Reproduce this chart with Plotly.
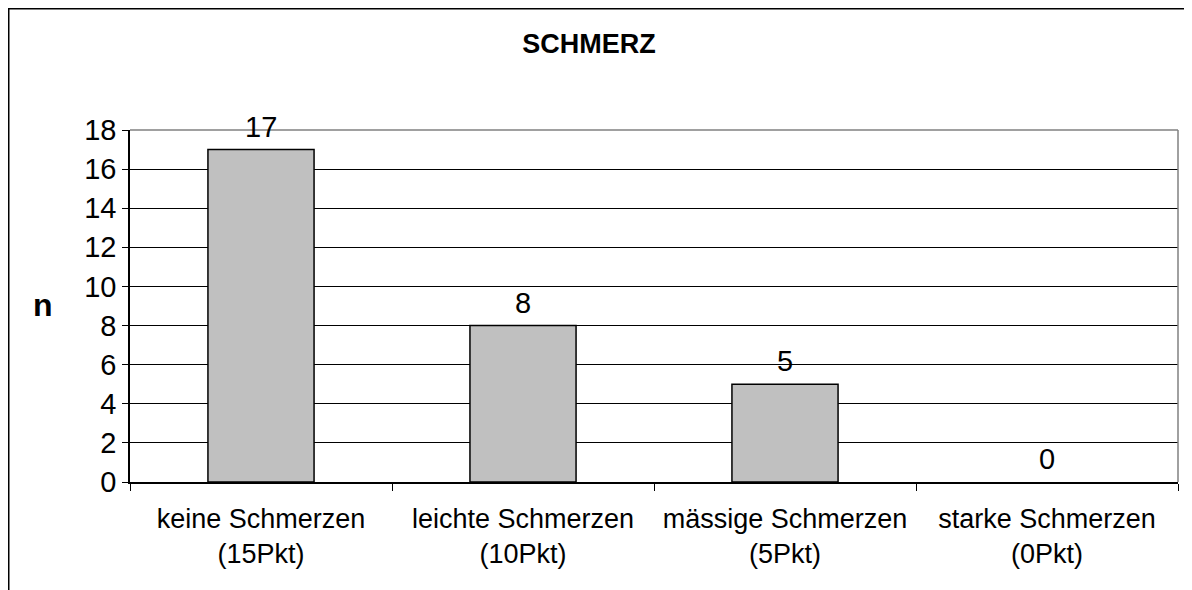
import plotly.graph_objects as go

categories = ["keine Schmerzen<br>(15Pkt)", "leichte Schmerzen<br>(10Pkt)",
              "mässige Schmerzen<br>(5Pkt)", "starke Schmerzen<br>(0Pkt)"]
values = [17, 8, 5, 0]
y_ticks = [0, 2, 4, 6, 8, 10, 12, 14, 16, 18]
title_text = "SCHMERZ"
y_title = "n"

FONT = "Liberation Sans, Arial, sans-serif"
W, H = 1192, 590
OFF = 8  # page offset of the figure in the browser window
L, T = 130 - OFF, 130 - OFF
R = W - (1178 - OFF)
B = H - (482 - OFF)
pw, ph = W - L - R, H - T - B

def px_x(p):
    return (p - OFF - L) / pw

def px_y(p):
    return (H - B - (p - OFF)) / ph

fig = go.Figure()
fig.add_trace(go.Bar(
    x=categories, y=values,
    marker=dict(color="#C0C0C0",
                line=dict(color="#000000",
                          width=[1.5 if v > 0 else 0 for v in values])),
    hoverinfo="skip",
))

for c, v in zip(categories, values):
    fig.add_annotation(x=c, y=v, text=str(v), showarrow=False,
                       xanchor="center", yanchor="bottom", yshift=5,
                       font=dict(family=FONT, size=29, color="#000000"))

fig.add_annotation(x=px_x(43), y=px_y(305), xref="paper", yref="paper",
                   xanchor="center", yanchor="middle",
                   text="<b>%s</b>" % y_title, showarrow=False,
                   font=dict(family=FONT, size=32, color="#000000"))

# outer frame (figure border)
fig.add_shape(type="rect", xref="paper", yref="paper",
              x0=px_x(8.5), x1=px_x(1200), y0=px_y(598), y1=px_y(8.5),
              line=dict(color="#000000", width=2))
# plot area border top and right (grey)
fig.add_shape(type="line", xref="paper", yref="paper",
              x0=0, x1=1, y0=1, y1=1, layer="above",
              line=dict(color="#808080", width=1.5))
fig.add_shape(type="line", xref="paper", yref="paper",
              x0=1, x1=1, y0=0, y1=1, layer="above",
              line=dict(color="#808080", width=1.5))

fig.update_layout(
    width=W, height=H,
    margin=dict(l=L, r=R, t=T, b=B, pad=0),
    paper_bgcolor="#FFFFFF", plot_bgcolor="#FFFFFF",
    showlegend=False,
    bargap=0.595,
    title=dict(text="<b>%s</b>" % title_text, x=(589 - OFF) / W,
               y=1 - (44 - OFF) / H,
               xanchor="center", yanchor="middle",
               font=dict(family=FONT, size=27, color="#000000")),
    xaxis=dict(
        type="category",
        showline=True, linecolor="#000000", linewidth=1.5,
        ticks="outside", tickson="boundaries", ticklen=7,
        tickcolor="#000000", tickwidth=1,
        ticklabelstandoff=12,
        showgrid=False, zeroline=False,
        tickfont=dict(family=FONT, size=27, color="#000000"),
    ),
    yaxis=dict(
        range=[0, 18], tickvals=y_ticks,
        showline=True, linecolor="#000000", linewidth=1.5,
        ticks="outside", ticklen=6, tickcolor="#000000", tickwidth=1,
        showgrid=True, gridcolor="#000000", gridwidth=1,
        zeroline=False,
        tickfont=dict(family=FONT, size=29, color="#000000"),
    ),
)

fig.write_html("out.html")
